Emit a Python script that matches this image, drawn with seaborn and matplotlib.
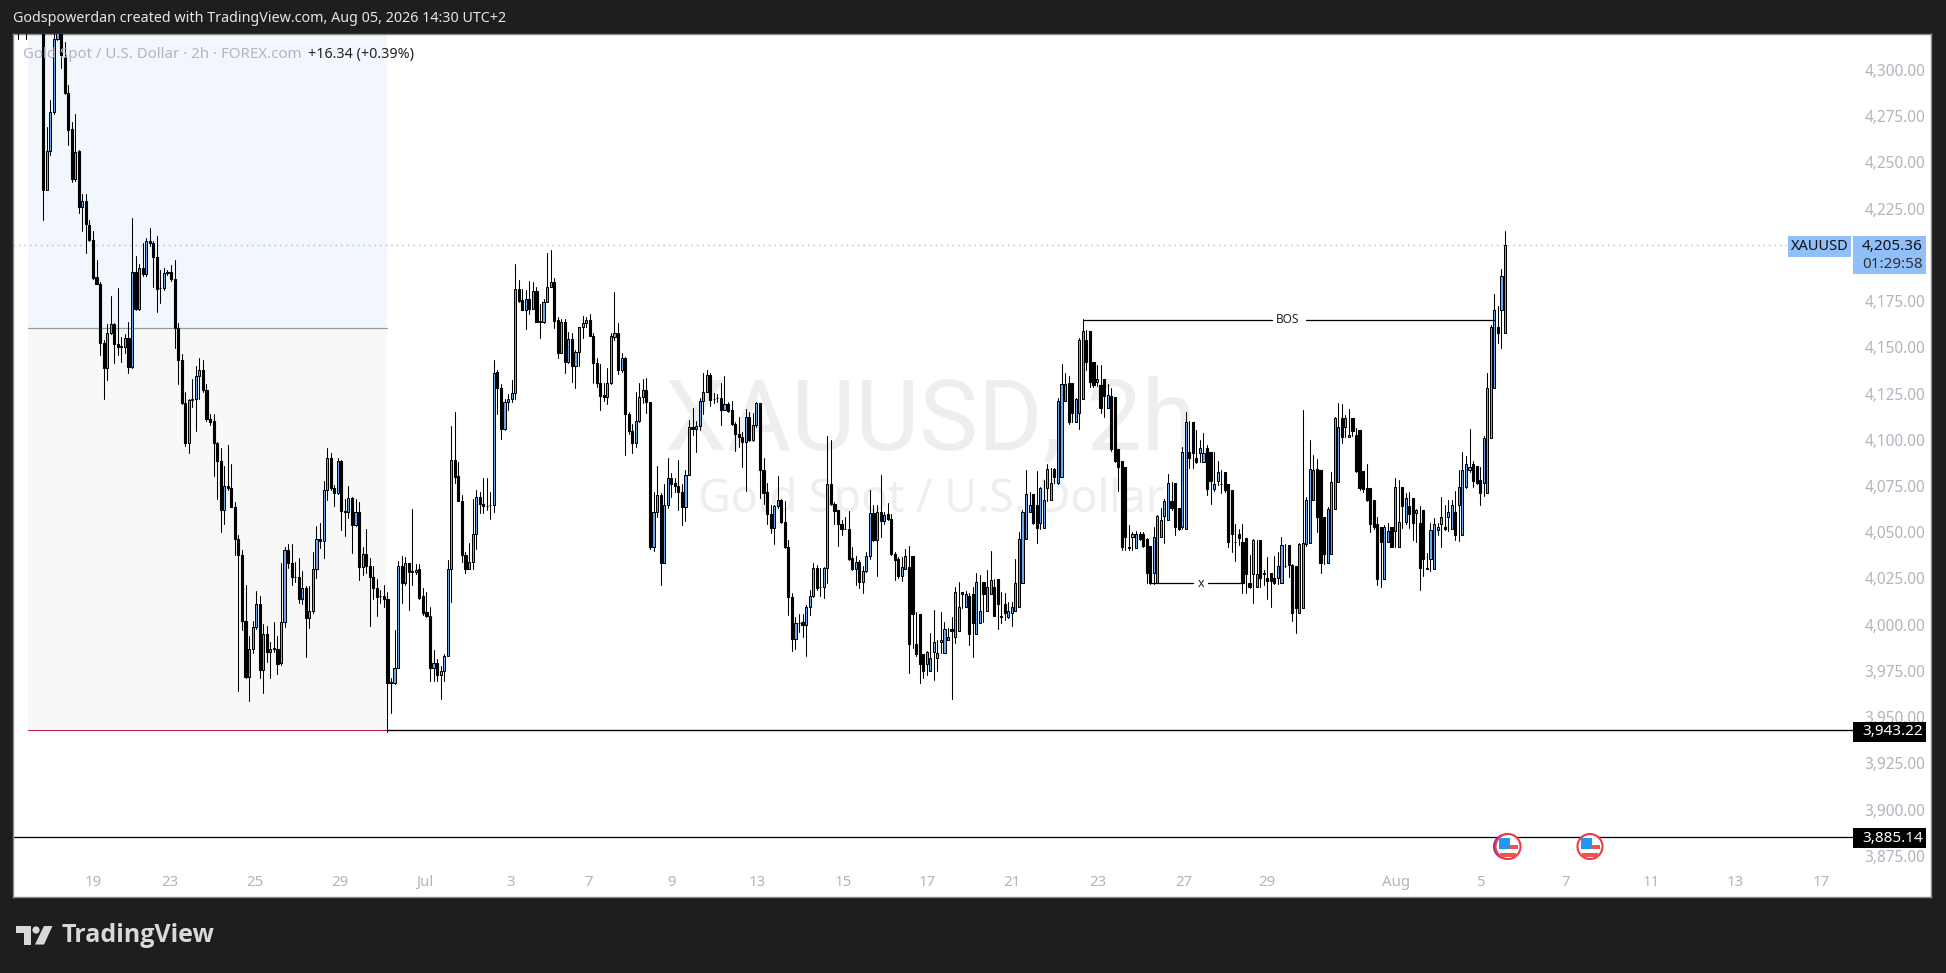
import numpy as np
import pandas as pd
import seaborn as sns
import matplotlib
matplotlib.use("Agg")
import matplotlib.pyplot as plt
from matplotlib.patches import Rectangle, Circle, Polygon
from matplotlib.transforms import IdentityTransform

# bars above the visible range at the far left
pre_opens = [4350, 4352, 4345, 4350, 4355, 4350, 4340]
pre_closes = [4352, 4345, 4350, 4355, 4350, 4340, 4330]
pre_highs = [4360, 4360, 4360, 4360, 4360, 4360, 4350]
pre_lows = [4317, 4325, 4317, 4325, 4325, 4330, 4325]

opens = [
4330,4235,4256,4277.4,4317,4325,4307,4287.7,4268,4241,
4256,4226,4229,4216,4208,4187.8,4184,4152.6,4139,4157.5,
4162.5,4152,4150,4150,4154.8,4139.5,4190.5,4170.7,4193,4189.6,
4207.3,4206.5,4199,4182,4182,4190.6,4190.8,4186.7,4160.6,4143,
4120,4098,4121.4,4122,4134.6,4138,4126.8,4111,4110.2,4098.4,
4088.3,4061.8,4075,4074,4063.8,4046.4,4037.5,4001.9,3971.8,3987.1,
3998.5,4011.4,3975.6,3994.8,3985.5,3987,3987.1,3979.1,4001.5,4040.4,
4033.5,4026,4026,4013.8,4020.1,4003.5,4007.2,4030,4046.4,4045,
4072.7,4089.9,4074,4071.1,4088.3,4061.6,4060.8,4068.5,4053.7,4060.8,
4031,4038.5,4031.5,4026,4020.1,4015.3,4015.3,4014.1,3968.7,3968.7,
3976.6,4031.5,4022.6,4033.1,4028.6,4028.6,4030,4015.3,4006.6,4004.9,
3976.6,3979.5,3972.8,3974.8,3983.1,4030,4088.9,4080.4,4067.1,4037.9,
4030.2,4034.1,4049.3,4069.1,4065.2,4064.2,4064.6,4064.5,4136.4,4127.8,
4105.9,4120.5,4122.3,4125.4,4181.8,4175.5,4170.1,4176.4,4170.7,4180.4,
4163.8,4163.8,4174.3,4182.4,4185.1,4164.7,4147,4163.5,4142.2,4154.3,
4140,4147.6,4160.8,4162.9,4164.7,4156.4,4141.3,4130.5,4124.2,4123.2,
4130.5,4155.7,4158,4137.7,4144,4113.7,4104.9,4098,4110.3,4122.9,
4127.2,4120.2,4042.1,4061,4069.9,4033.5,4065,4079.1,4076.4,4075.1,
4071.9,4063.4,4081.2,4107,4105.6,4107.6,4121.1,4126,4135.3,4122.2,
4122.4,4122.7,4116,4119.6,4116,4108.3,4103.4,4101.6,4098.9,4112.1,
4099.8,4107.9,4119.8,4083.9,4071.6,4059.8,4052.4,4064.1,4067.7,4055.6,
4042.1,4015,3992.5,4001,4001.2,4000.1,4009.6,4015.6,4030.4,4020.4,
4020.4,4030.4,4076,4065.5,4061.9,4054.7,4052,4052,4036.2,4030.2,
4034,4023.2,4029.1,4037.2,4060.5,4045.7,4061,4056.2,4059.6,4056.9,
4038.5,4035.3,4026.4,4029.9,4031,4037.3,3989.4,4006,3983.9,3979,
3975.1,3985,3982.1,3990.4,3984.5,3991.7,3997.5,3993.1,3996.6,4017.8,
4009.4,4015.5,4016.4,3994.8,4001.1,4023.2,4007.6,4016.4,4020.5,4024.5,
4004.9,4011.2,4004.3,4006.1,4007.2,4009.4,4022.3,4046.1,4060.7,4070.5,
4065,4055.2,4052.5,4073.7,4067.4,4084,4076.8,4079.7,4121.1,4130.5,
4130.5,4109.8,4114.3,4122,4154,4158.8,4141.9,4131,4129.6,4132.7,
4117,4123.8,4123.3,4094.8,4088.7,4085.1,4042.2,4047.6,4041.3,4048.9,
4048.9,4046.1,4042.7,4028.1,4022.3,4047.6,4059,4056.6,4066.9,4076.4,
4062.9,4053,4051.7,4093.2,4109.4,4090.3,4092.7,4088.2,4095.4,4093.2,
4073.4,4077.7,4075.9,4082.7,4075.9,4072.8,4044.5,4048.8,4044.5,4046.7,
4022.3,4027.2,4020.5,4045.8,4027.2,4025.4,4027.7,4025,4025,4022.7,
4031.9,4043.1,4032.3,4031.9,4006.5,4008.8,4043.4,4044,4067.4,4084,
4083.9,4058,4033.2,4038,4062.4,4077,4111.6,4107.1,4101.7,4111.6,
4102.6,4105.3,4083.3,4073.7,4073.7,4067.4,4054.3,4053,4024.5,4044.5,
4053,4050.7,4042.2,4074.3,4055.7,4064.4,4068.3,4060.2,4054.8,4062,
4030.8,4035.3,4029.9,4051.2,4054.3,4053,4058,4051.6,4061.1,4064.5,
4048.5,4074.3,4083.7,4086.7,4085.8,4078.2,4076.4,4071.4,4100.8,4127.8,
4160.8,4170,4157.6,4188.4,
]
closes = [
4235,4256,4277.4,4317,4325,4308,4287.7,4267.8,4241,4255.8,
4226,4229,4216.5,4208,4187.6,4184,4152.6,4139,4157.5,4162.5,
4152,4150,4150.5,4154.8,4139.5,4190.5,4170.7,4193,4189.6,4207.3,
4206.5,4199,4181.8,4182,4190,4190,4186.7,4160.6,4143.4,4120,
4098,4121.4,4122.3,4134.6,4138,4126.8,4111,4109.7,4098.4,4088.3,
4061.8,4075,4074,4063.8,4046.4,4037.5,4001.9,3971.8,3987.1,3998.5,
4011.4,3975.6,3994.8,3985.5,3987.1,3987.2,3978.8,4001.5,4040.4,4033.5,
4026,4026,4013.8,4020.1,4003.5,4007.2,4030,4046.4,4045,4072.7,
4089.9,4074,4071.1,4088.3,4061.6,4060.8,4068.5,4053.7,4060.8,4031,
4038.5,4031.5,4026,4020.1,4015.1,4015.5,4014.1,3968.7,3968.9,3976.6,
4031.5,4022.6,4033.1,4028.6,4028.8,4029.6,4014.7,4006.2,4004.9,3976.6,
3979.5,3972.8,3974.8,3983.1,4030,4088.9,4080,4067.1,4037.9,4030.2,
4034.1,4049.3,4069.1,4065.2,4064.2,4064.4,4064.6,4136.2,4127.8,4105.9,
4120.5,4122.3,4125.4,4181.8,4175.2,4170.1,4176.4,4170.7,4180.4,4163.8,
4164,4174.3,4182.4,4185.1,4164.4,4147,4163.5,4142.2,4154.3,4140,
4147.6,4160.8,4162.9,4164.7,4156.4,4141.3,4130.5,4123.6,4123.2,4130.5,
4156,4158,4137.7,4144,4113.7,4104.9,4098,4110.3,4122.9,4127.2,
4120.2,4042.1,4061,4069.9,4033.5,4065,4079.1,4076,4075.1,4071.9,
4063.4,4081.2,4107,4105.6,4107.6,4121.1,4126,4135.3,4121.4,4122.2,
4122.5,4116,4119.6,4115.7,4108.3,4103.4,4101.6,4098.9,4112.1,4099.8,
4107.9,4119.8,4083.9,4071.3,4059.8,4052.4,4064.1,4067.7,4055.6,4042.1,
4015,3992.5,4001,4001,4000.1,4009.6,4015.6,4030.4,4019.9,4020.5,
4030.4,4076,4065.2,4061.6,4054.4,4052,4052,4035.8,4030.2,4034,
4023.2,4029.1,4037.2,4060.5,4045.7,4061,4056.2,4059.2,4056.9,4038.5,
4034.9,4026.4,4031,4037.3,3989.4,4006,3983.9,3979,3975.1,3985,
3982.1,3990.4,3984.5,3991.7,3997.5,3993.1,3996.6,4017.8,4009.4,4016.6,
4016.4,3994.8,4001.1,4023.2,4007.6,4016.4,4020.5,4024.1,4004.9,4011.2,
4004.3,4006.1,4007.2,4009.4,4022.3,4046.1,4060.7,4070.5,4065,4055.2,
4052.5,4073.7,4067.4,4084,4076.8,4079.7,4121.1,4130,4130,4109.8,
4114.3,4122,4154,4158.8,4141.9,4131,4129.6,4132.7,4117,4123.8,
4124,4094.8,4088.7,4085.1,4042.2,4047.6,4041.3,4048.9,4048.9,4046.1,
4042.7,4028.1,4022.3,4047.6,4059,4056.6,4066.9,4076.4,4062.9,4053,
4051.7,4093.2,4109.4,4090.3,4092.7,4088.2,4095.4,4093,4073.4,4077.7,
4075.9,4082.7,4075.9,4072.8,4044.5,4048.8,4044.5,4046.7,4022.3,4027.2,
4020.5,4045.8,4027.2,4025.4,4027.7,4023.8,4023.8,4022.7,4031.9,4043.1,
4031.9,4032.2,4006.5,4008.8,4043.4,4044,4067.4,4084,4083.6,4058,
4033.2,4038,4062.4,4077,4111.6,4107.1,4101.7,4111.6,4102.6,4104.9,
4083.3,4073.7,4073.2,4067.4,4054.3,4053,4024.5,4044.5,4053,4050.7,
4042.2,4074.3,4055.7,4064.4,4068.3,4060,4054.8,4062,4030.8,4035.3,
4029.9,4051.2,4054.3,4053,4058,4051.6,4061.1,4064.5,4048.5,4074.3,
4083.7,4086.7,4085.5,4077.9,4076.4,4071.4,4100.8,4127.8,4160.8,4170,
4157.6,4188.4,4205.36,
]
highs = [
4340,4269,4283.7,4325,4335,4335,4315,4292,4272,4276,
4257,4233,4233,4219,4212.7,4197.5,4185.4,4154,4162.5,4178,
4163,4182,4155.7,4157,4163.8,4219.7,4199.5,4195,4206.7,4209.2,
4214.3,4207.6,4210,4191.8,4193,4192,4194.8,4197.5,4163,4146.3,
4126,4122,4133,4140,4144,4143,4130,4114,4114.2,4099,
4095.4,4085.9,4097.2,4086.9,4066.1,4048.4,4040.4,4021.7,3994,4001.9,
4018.1,4015.7,4000.3,3999.3,3990.6,4001.5,3994,4033.1,4041.8,4043.4,
4043.8,4033.9,4036.1,4029,4021,4021,4039.1,4053.3,4054.9,4077.6,
4095.4,4092.8,4075.4,4089.9,4088.9,4068.1,4075,4069,4068.1,4066.1,
4041.8,4051.7,4035.9,4031.5,4024.6,4018.7,4021.7,4017.7,3971,3997.3,
4034.5,4036.9,4036.5,4033.5,4062.8,4033,4033,4020,4017.7,4009.4,
3986.1,3981.7,3977.6,3984.1,4034.9,4107.3,4115,4087.9,4070.1,4039.5,
4044.4,4068.1,4073,4072,4079.4,4079.4,4071.5,4143.4,4137.7,4130,
4122.3,4125,4132.6,4195,4186.4,4181.8,4181,4185.8,4185.5,4182.7,
4173.7,4175.9,4201.1,4202.6,4187.6,4166.2,4165.6,4165.6,4158.4,4157.5,
4148.5,4161.1,4166.9,4166.2,4168,4157.5,4144.5,4140.9,4130.5,4138.6,
4157.5,4179.7,4162.9,4147.2,4144.9,4115.1,4108.8,4126,4130.5,4132.8,
4133.2,4120.5,4071.9,4085.7,4071,4076,4090.4,4081.8,4079.1,4089,
4076,4083.6,4110.6,4117.3,4110.1,4122.4,4135.9,4137.7,4136,4125.4,
4125,4130.5,4134.4,4120.5,4121.1,4109.7,4112.4,4104.3,4116.9,4115.1,
4114.6,4120.5,4120,4090.4,4076.9,4064.6,4064.6,4080.3,4068,4066.9,
4046,4016.9,4004.3,4006,4006,4010.6,4018.7,4033.1,4032.2,4030.4,
4031.3,4101.9,4099.8,4066.5,4061.9,4056.5,4058,4061.4,4042.1,4037,
4034.9,4031.6,4039.4,4073.1,4065,4064.6,4080.9,4061,4065.9,4060.1,
4039.4,4036.7,4036.8,4040.7,4042.5,4016,4006.7,3985,3979.5,3985.7,
3995.3,4007.9,3991.7,4006.7,4001.6,3998.4,4004.3,4020.5,4023.2,4017.8,
4018,4016.9,4020.5,4027.7,4026.8,4021.4,4029.6,4039.8,4024.5,4017.7,
4017.9,4017,4012.4,4012.4,4035.3,4050,4062,4083.6,4071.9,4069.2,
4083.1,4074.5,4078.2,4086.7,4084.9,4085,4122.4,4141,4136,4134.5,
4116,4122.8,4154.9,4165.1,4159.4,4142.2,4136.8,4140.4,4140.4,4130.2,
4130,4127.8,4098.6,4088.7,4085.5,4060.7,4053.9,4050.3,4050.8,4050.3,
4050.3,4046.7,4029,4053,4059.3,4062.9,4068,4081.5,4077.3,4067,
4056.6,4096.3,4115.2,4110.3,4105.3,4105.3,4099.9,4103.5,4097.2,4081,
4093.2,4088.5,4083.6,4077.3,4073.7,4052.1,4054.4,4051.5,4054.4,4032,
4037.7,4046.2,4046,4029.6,4029.6,4036.8,4028.1,4037,4039.5,4047.2,
4043.5,4038.9,4032.6,4011,4044,4116,4069.2,4099.9,4092,4089.6,
4058,4049,4063.5,4082.4,4112.5,4119.7,4119.2,4113.4,4116.5,4110.7,
4106.2,4090,4075,4086.9,4068.5,4060.2,4058.4,4052.1,4054,4054.8,
4052.1,4079.1,4078.2,4067.4,4071,4071.6,4062,4062.6,4064.2,4040.4,
4038.6,4054.8,4057.5,4055,4068.9,4064.7,4067.4,4067.4,4072.3,4083.7,
4093.2,4091.2,4105.8,4088.5,4080,4085.5,4102.2,4136,4162,4178.9,
4172.4,4192.4,4212.9,
]
lows = [
4219,4235,4254,4276,4316,4301,4287,4259.7,4239.5,4240,
4222.4,4213,4201,4207.6,4186.7,4184,4146,4122,4132.6,4157,
4141.6,4146,4142,4146.7,4136,4139,4170,4170,4188.7,4188.7,
4205,4182.8,4169,4174,4181,4189,4186,4149.7,4130,4119.6,
4096.6,4093,4118,4105,4122,4126,4110,4108,4080.6,4068.1,
4050.3,4054.7,4073,4063.8,4037.5,3964.3,3997,3971.2,3958.8,3984.5,
3997.9,3971.2,3962.8,3980,3971.2,3985,3973.2,3978,3998.9,4030.6,
4021.7,4023.2,4011.8,4011.2,3982.7,3998.3,4006.4,4025.2,4041.4,4035.9,
4067.7,4073,4064.2,4070.5,4051.3,4048,4057.8,4038.9,4053.3,4024.2,
4027,4028.2,3999.5,4013.8,4004.9,4011.8,4009.4,3942.2,3952,3967.7,
3976.6,4011.8,4021.3,4007.8,4021.7,4027.6,4014,4005,4004,3969.7,
3969.7,3969.7,3960,3969.3,3983,4012.4,4076.4,4067,4034,4028.2,
4030,4030.2,4040.8,4060.2,4060.6,4062,4057.2,4061,4113.9,4100.2,
4105.2,4116,4120.5,4122.3,4174.6,4170,4160,4168.3,4170.5,4163.8,
4155.2,4162.9,4174.3,4182.4,4160.6,4144.3,4147,4136.2,4141.8,4131.4,
4128.1,4139.8,4155.3,4160.8,4156,4130.8,4128.7,4116,4121.1,4119.6,
4130,4153.9,4135.5,4136.8,4091.7,4103.1,4092.9,4096.2,4109.7,4120,
4114.6,4040.7,4039.9,4058.3,4021.4,4033.1,4063.2,4069.2,4071.9,4062.3,
4053.8,4056.2,4080.9,4102.5,4093.5,4105.2,4113.9,4125.6,4118.4,4120,
4120.5,4107.9,4116,4115,4107.9,4094,4096.2,4085.4,4072.4,4099.4,
4099.4,4107,4068.3,4065.5,4054.7,4049.7,4043.6,4063.2,4055.1,4041.7,
4005.2,3985.9,3986.6,3996.1,3993.4,3983,4005.2,4015,4019,4015.6,
4014.5,4022.3,4064.6,4054.7,4042.5,4048.4,4052,4034.9,4029.5,4021.4,
4019.6,4016.9,4028.6,4035.8,4045,4026.4,4047.5,4054.7,4056.5,4037.6,
4024.4,4025,4023.8,4030,3973.7,3987.2,3983,3968.6,3971.3,3972.8,
3981.8,3970,3975.1,3984.5,3987,3992,3959.6,3989.9,4008.8,4009,
4014.5,3989,3982.3,4000.7,4006,4001.6,4014.6,4020,4004.5,3997.6,
4001,4002.5,4003.4,3999.4,4008.8,4021.4,4043.1,4058.4,4064.6,4054.4,
4044.3,4052,4067,4066.9,4076,4076.5,4076,4120,4129.5,4108.5,
4109.4,4112.1,4105.8,4153.6,4137.7,4128.4,4128.4,4129,4114.3,4112.1,
4122,4094,4088,4072.5,4040.4,4040.4,4040.5,4040.4,4046.7,4046,
4042,4022.7,4022,4022,4044.9,4051.2,4044.3,4066,4062,4048.5,
4051,4051.6,4092.8,4084.5,4084.5,4087.5,4088,4092,4070.1,4065.1,
4072.3,4075.4,4071.1,4072,4042.2,4039.5,4034.6,4043,4017.3,4017,
4020,4011.5,4026.5,4020.5,4021.4,4013.9,4009.7,4022,4022,4031,
4031,4025.9,4002.2,3995.7,4007,4042,4042.5,4066,4082,4050.3,
4028.1,4032.6,4037,4062,4064.7,4082.7,4098,4101.3,4102,4102,
4082.5,4073,4072,4067,4049.9,4052,4021.4,4020.5,4041.3,4050,
4042,4041.8,4047.2,4052.1,4054.3,4052.1,4045.8,4044.9,4018.7,4026.5,
4029.9,4029.2,4049.8,4048.5,4042.2,4051,4050.8,4055.2,4045.8,4045.4,
4060.6,4074.1,4082.7,4074.6,4076,4064.7,4069.6,4095,4127,4160,
4152.5,4149.8,4187.5,
]

y_ticks = [3875, 3900, 3925, 3950, 3975, 4000, 4025, 4050, 4075, 4100, 4125, 4150,
           4175, 4225, 4250, 4275, 4300]
x_tick_bars = [14, 35.7, 59.7, 83.7, 107.6, 131.6, 153.6, 177.1, 201.3, 225.6, 249.2, 273,
               297.1, 321.4, 345, 381.2, 405.1, 429.1, 453.1, 477, 501]
x_tick_labels = ["19", "23", "25", "29", "Jul", "3", "7", "9", "13", "15", "17", "21",
                 "23", "27", "29", "Aug", "5", "7", "11", "13", "17"]
last_price = 4205.36
level_a = 3943.22
level_b = 3885.14
zone_mid = 4160.3
zone_low = 3942.8
bos_price = 4165
x_price = 4022.3

n = min(len(opens), len(closes), len(highs), len(lows))
O = np.array(pre_opens + opens[:n])
C = np.array(pre_closes + closes[:n])
H = np.array(pre_highs + highs[:n])
L = np.array(pre_lows + lows[:n])
bars = np.arange(len(O)) - len(pre_opens)

W, Hh = 1946, 973
sns.set_style("white")
plt.rcParams['font.family'] = ['Noto Sans', 'DejaVu Sans']
fig = plt.figure(figsize=(W / 100, Hh / 100), dpi=100, facecolor='#1e1e1e')

PL, PR, PT, PB = 13, 1931, 33.5, 897
ax = fig.add_axes([PL / W, 1 - PB / Hh, (PR - PL) / W, (PB - PT) / Hh], facecolor='white')
step = (1505 - 43.3) / (n - 1)
tobar = lambda px: (px - 43.3) / step
price = lambda py: 4000 + (624.7 - py) / 1.849

# zones
zl, zr = tobar(28), tobar(387)
ax.fill_between([zl, zr], zone_mid, price(PT), color='#f2f7fe', lw=0, zorder=0)
ax.fill_between([zl, zr], zone_low, zone_mid, color='#f8f8f8', lw=0, zorder=0)
ax.plot([zl, zr], [zone_mid, zone_mid], color='#9a9a9a', lw=0.9, zorder=1)
ax.plot([zl, zr], [zone_low, zone_low], color='#c2185b', lw=0.75, zorder=1)

# watermark
ax.text(tobar(931), price(422), "XAUUSD, 2h", fontsize=71, color='#eeeeee', ha='center', va='center',
        zorder=0.5, family='Roboto')
ax.text(tobar(931), price(500), "Gold Spot / U.S. Dollar", fontsize=32.3, color='#eeeeee', ha='center',
        va='center', zorder=0.5)

# levels
ax.plot([tobar(13), tobar(1788)], [last_price, last_price], color='#90bff9', lw=1, ls=(0, (1, 3)), zorder=1)
ax.plot([zr, tobar(1853)], [level_a, level_a], color='black', lw=1, zorder=2)
ax.plot([tobar(13), tobar(1853)], [level_b, level_b], color='black', lw=0.9, zorder=2)

# wicks through seaborn
wicks = pd.DataFrame({
    'bar': np.repeat(bars, 2),
    'price': np.column_stack([L, H]).ravel(),
})
sns.lineplot(data=wicks, x='bar', y='price', units='bar', estimator=None, sort=False,
             color='black', lw=0.75, legend=False, ax=ax, zorder=3, errorbar=None)
# bodies
up = C >= O
body_h = np.abs(C - O)
body_b = np.minimum(O, C)
ax.bar(bars[up], body_h[up], bottom=body_b[up], width=0.6, color='#6aa6f2',
       edgecolor='black', linewidth=0.72, zorder=4)
ax.bar(bars[~up], body_h[~up], bottom=body_b[~up], width=0.6, color='black',
       edgecolor='black', linewidth=0.8, zorder=4)

# annotations
bx0, bx1 = tobar(1084), tobar(1494)
ax.plot([bx0, tobar(1272)], [bos_price, bos_price], color='black', lw=0.9, zorder=5)
ax.plot([tobar(1306), bx1], [bos_price, bos_price], color='black', lw=0.9, zorder=5)
ax.text(tobar(1288), bos_price, "BOS", fontsize=8.5, color='#222222', ha='center', va='center', zorder=6)
ax.plot([tobar(1152), tobar(1193)], [x_price, x_price], color='black', lw=0.9, zorder=5)
ax.plot([tobar(1208), tobar(1243)], [x_price, x_price], color='black', lw=0.9, zorder=5)
ax.text(tobar(1201), x_price, "x", fontsize=9, color='#222222', ha='center', va='center', zorder=6)

ax.set_xlim(tobar(PL), tobar(PR))
ax.set_ylim(price(PB), price(PT))
ax.set_xlabel("")
ax.set_ylabel("")
ax.grid(False)

ax.yaxis.tick_right()
ax.set_yticks(y_ticks)
ax.set_yticklabels([f"{v:,.2f}" for v in y_ticks], ha='right', color='#b2b5be', fontsize=11.1)
ax.tick_params(axis='y', length=0, pad=-4)
ax.set_xticks(x_tick_bars)
ax.set_xticklabels(x_tick_labels, color='#b2b5be', fontsize=10.8)
for lab in ax.get_xticklabels():
    if lab.get_text() in ("Jul", "Aug"):
        lab.set_fontweight('bold')
ax.tick_params(axis='x', length=0, pad=-16, direction='in')
for s in ax.spines.values():
    s.set_color('#8a8a8a')
    s.set_linewidth(1)

def T(x, y, s, **k):
    k.setdefault('va', 'center')
    return fig.text(x / W, 1 - y / Hh, s, zorder=20, **k)

def box(x0, y0, x1, y1, c):
    fig.add_artist(Rectangle((x0, Hh - y1), x1 - x0, y1 - y0, transform=IdentityTransform(),
                             facecolor=c, edgecolor='none', zorder=10))

T(13, 19, "Godspowerdan created with TradingView.com, Aug 05, 2026 14:30 UTC+2", color='#e6e6e6', fontsize=10.3)
T(23, 54.5, "Gold Spot / U.S. Dollar · 2h · FOREX.com", color='#b2b5be', fontsize=10.8)
T(308, 54.5, "+16.34 (+0.39%)", color='#222222', fontsize=10.3)

box(1788, 236, 1851, 257, '#90bff9')
T(1819.5, 246.5, "XAUUSD", color='#111111', fontsize=10.5, ha='center')
box(1853, 236, 1926, 274, '#90bff9')
T(1923, 246, "4,205.36", color='#111111', fontsize=11, ha='right')
T(1923, 264, "01:29:58", color='#333333', fontsize=11, ha='right')
box(1853, 722, 1926, 742, 'black')
T(1923, 731.5, "3,943.22", color='white', fontsize=11, ha='right')
box(1853, 828, 1926, 848, 'black')
T(1923, 838, "3,885.14", color='white', fontsize=11, ha='right')

# event flags
I = IdentityTransform()
for cx, cy, purple in [(1508, 846.5, True), (1590, 846.5, False)]:
    yy = Hh - cy
    if purple:
        fig.add_artist(Circle((cx - 2, yy), 13, transform=I, facecolor='#8e24aa', edgecolor='none', zorder=11))
    fig.add_artist(Circle((cx, yy), 12.5, transform=I, facecolor='white', edgecolor='#f23645', lw=1.5, zorder=12))
    fig.add_artist(Rectangle((cx + 1, yy - 2), 9, 4, transform=I, facecolor='#ef5350', edgecolor='none', zorder=13))
    fig.add_artist(Rectangle((cx - 8, yy - 10), 16, 3.5, transform=I, facecolor='#ef5350', edgecolor='none', zorder=13))
    fig.add_artist(Rectangle((cx - 9, yy - 2), 11, 11, transform=I, facecolor='#2196f3', edgecolor='none', zorder=14))

# footer logo
lc = '#d9d9d9'
fig.add_artist(Polygon([(16, Hh - 926), (31, Hh - 926), (31, Hh - 944.5), (24, Hh - 944.5), (24, Hh - 933), (16, Hh - 933)],
                       closed=True, transform=I, facecolor=lc, edgecolor='none', zorder=15))
fig.add_artist(Circle((36, Hh - 930), 3.6, transform=I, facecolor=lc, edgecolor='none', zorder=15))
fig.add_artist(Polygon([(44, Hh - 926), (52.5, Hh - 926), (44, Hh - 944.5), (35, Hh - 944.5)],
                       closed=True, transform=I, facecolor=lc, edgecolor='none', zorder=15))
T(62, 935.5, "TradingView", color=lc, fontsize=18, fontweight='bold', family='Open Sans')

fig.savefig("out.png", dpi=100, facecolor=fig.get_facecolor())
